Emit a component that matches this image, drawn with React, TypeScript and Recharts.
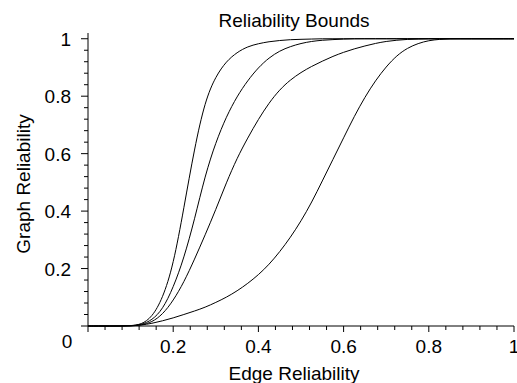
import React from "react";
import { LineChart, Line, XAxis, YAxis } from "recharts";

// Edge reliability (x) sample points
const edgeRel = [
  0, 0.025, 0.05, 0.075, 0.1, 0.125, 0.15, 0.175, 0.2, 0.225, 0.25, 0.275,
  0.3, 0.325, 0.35, 0.375, 0.4, 0.425, 0.45, 0.475, 0.5, 0.525, 0.55, 0.575,
  0.6, 0.625, 0.65, 0.675, 0.7, 0.725, 0.75, 0.775, 0.8, 0.825, 0.85, 0.875,
  0.9, 0.925, 0.95, 0.975, 1,
];

// Graph reliability, four bounds (left to right)
const boundA = [
  0, 0, 0, 0, 0.001, 0.005, 0.03, 0.095, 0.21, 0.41, 0.62, 0.785, 0.87, 0.922,
  0.953, 0.973, 0.983, 0.99, 0.994, 0.997, 0.998, 0.999, 1, 1, 1, 1, 1, 1, 1,
  1, 1, 1, 1, 1, 1, 1, 1, 1, 1, 1, 1,
];
const boundB = [
  0, 0, 0, 0, 0.0005, 0.004, 0.02, 0.057, 0.133, 0.235, 0.37, 0.525, 0.64,
  0.73, 0.8, 0.855, 0.9, 0.934, 0.958, 0.973, 0.984, 0.991, 0.995, 0.997,
  0.999, 1, 1, 1, 1, 1, 1, 1, 1, 1, 1, 1, 1, 1, 1, 1, 1,
];
const boundC = [
  0, 0, 0, 0, 0.0003, 0.003, 0.013, 0.04, 0.088, 0.152, 0.232, 0.317, 0.405,
  0.5, 0.585, 0.655, 0.72, 0.777, 0.823, 0.857, 0.883, 0.904, 0.922, 0.939,
  0.953, 0.965, 0.975, 0.984, 0.991, 0.995, 0.998, 0.999, 1, 1, 1, 1, 1, 1, 1,
  1, 1,
];
const boundD = [
  0, 0, 0, 0, 0.0002, 0.003, 0.009, 0.018, 0.028, 0.04, 0.052, 0.065, 0.082,
  0.1, 0.122, 0.148, 0.178, 0.214, 0.258, 0.308, 0.365, 0.43, 0.505, 0.58,
  0.655, 0.73, 0.797, 0.855, 0.903, 0.942, 0.968, 0.984, 0.994, 0.998, 1, 1, 1,
  1, 1, 1, 1,
];

// Tick positions (minor every 0.04, labelled every 0.2)
const axisTicks = [
  0, 0.04, 0.08, 0.12, 0.16, 0.2, 0.24, 0.28, 0.32, 0.36, 0.4, 0.44, 0.48,
  0.52, 0.56, 0.6, 0.64, 0.68, 0.72, 0.76, 0.8, 0.84, 0.88, 0.92, 0.96, 1,
];

const data = edgeRel.map((x, i) => ({
  x,
  a: boundA[i],
  b: boundB[i],
  c: boundC[i],
  d: boundD[i],
}));

const FONT = "'Liberation Sans', Arial, Helvetica, sans-serif";
const FS = 19;

const isMajor = (v: number) => Math.abs(v * 5 - Math.round(v * 5)) < 1e-6;
const fmt = (v: number) => String(Math.round(v * 10) / 10);

const XTick = (props: any) => {
  const { x, y, payload } = props;
  const v = payload.value;
  const major = isMajor(v);
  return (
    <g>
      <line x1={x} y1={y} x2={x} y2={y + (major ? 6 : 4)} stroke="#000" />
      {major && v > 0 && (
        <text
          x={x}
          y={y + 27}
          textAnchor="middle"
          fontFamily={FONT}
          fontSize={FS}
          fill="#000"
        >
          {fmt(v)}
        </text>
      )}
    </g>
  );
};

const YTick = (props: any) => {
  const { x, y, payload } = props;
  const v = payload.value;
  const major = isMajor(v);
  return (
    <g>
      <line x1={x} y1={y} x2={x - (major ? 7 : 4)} y2={y} stroke="#000" />
      {major && v === 0 && (
        <text
          x={x - 21}
          y={y + 22}
          textAnchor="middle"
          fontFamily={FONT}
          fontSize={FS}
          fill="#000"
        >
          0
        </text>
      )}
      {major && v > 0 && (
        <text
          x={x - 17}
          y={y + 7}
          textAnchor="end"
          fontFamily={FONT}
          fontSize={FS}
          fill="#000"
        >
          {fmt(v)}
        </text>
      )}
    </g>
  );
};

const textStyle: React.CSSProperties = {
  position: "absolute",
  fontFamily: FONT,
  fontSize: FS,
  color: "#000",
  whiteSpace: "nowrap",
  lineHeight: 1,
};

export default function App() {
  return (
    <div
      style={{
        position: "absolute",
        left: 0,
        top: 0,
        width: 517,
        height: 383,
        background: "#fff",
        overflow: "hidden",
      }}
    >
      <LineChart
        width={517}
        height={383}
        data={data}
        margin={{ top: 33, right: 3, bottom: 0, left: 0 }}
      >
        <XAxis
          dataKey="x"
          type="number"
          domain={[0, 1]}
          ticks={axisTicks}
          interval={0}
          height={57}
          axisLine={{ stroke: "#000" }}
          tickLine={false}
          tickSize={0}
          tickMargin={0}
          tick={(p: any) => <XTick {...p} />}
        />
        <YAxis
          type="number"
          domain={[0, 1.02]}
          ticks={axisTicks}
          interval={0}
          width={88}
          axisLine={{ stroke: "#000" }}
          tickLine={false}
          tickSize={0}
          tickMargin={0}
          tick={(p: any) => <YTick {...p} />}
        />
        {["a", "b", "c", "d"].map((k) => (
          <Line
            key={k}
            type="basis"
            dataKey={k}
            stroke="#000"
            strokeWidth={1}
            dot={false}
            activeDot={false}
            isAnimationActive={false}
          />
        ))}
      </LineChart>
      <div style={{ ...textStyle, left: 294, top: 11, transform: "translateX(-50%)" }}>
        Reliability Bounds
      </div>
      <div style={{ ...textStyle, left: 294, top: 364, transform: "translateX(-50%)" }}>
        Edge Reliability
      </div>
      <div
        style={{
          ...textStyle,
          left: 23,
          top: 184,
          transform: "translate(-50%, -50%) rotate(-90deg)",
        }}
      >
        Graph Reliability
      </div>
    </div>
  );
}
